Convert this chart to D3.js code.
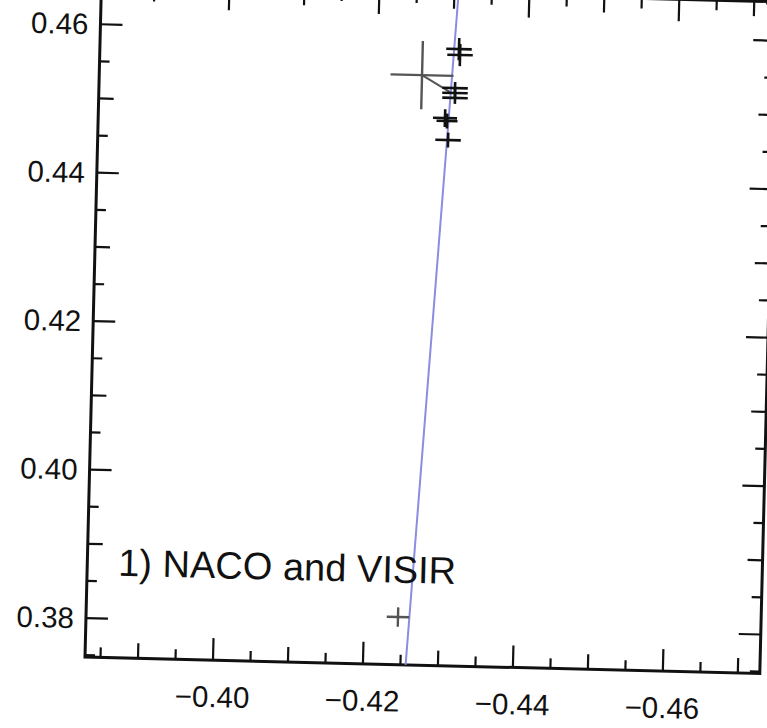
<!DOCTYPE html>
<head>
<meta charset="utf-8">
<style>
  body { margin: 0; background: #fff; }
  svg { display: block; font-family: "Liberation Sans", Arial, sans-serif; }
</style>
</head>
<body>
<svg width="767" height="728"></svg>
<script src="https://d3js.org/d3.v7.min.js"></script>
<script>
// axis ranges and labelled ticks
var xDomain = [-0.38293, -0.47293];
var yDomain = [0.37475, 0.46526];
var xTickVals = [-0.40, -0.42, -0.44, -0.46];
var yTickVals = [0.38, 0.40, 0.42, 0.44, 0.46];

// NACO astrometry (black)
var nacoX    = [-0.43080, -0.43096, -0.43040, -0.43041, -0.43043, -0.42916, -0.42944, -0.42964];
var nacoY    = [ 0.45784,  0.45704,  0.45258,  0.45191,  0.45124,  0.44850,  0.44811,  0.44555];
var nacoXErr = [ 0.0017,   0.0017,   0.0017,   0.0017,   0.0017,   0.0016,   0.0014,   0.0017];
var nacoYErr = [ 0.0015,   0.0015,   0.0008,   0.0008,   0.0008,   0.0012,   0.0010,   0.0010];

// VISIR astrometry (grey)
var visirX    = [-0.42596, -0.42452];
var visirY    = [ 0.45421,  0.38116];
var visirXErr = [ 0.0042,   0.0015];
var visirYErr = [ 0.0046,   0.0013];

// link from the big VISIR point to the matching NACO epoch
var linkX = [-0.42596, -0.42975];
var linkY = [ 0.45421,  0.45202];

// fitted track
var fitX = [-0.42569, -0.43056];
var fitY = [ 0.37475,  0.46526];

var W = 675, H = 672, angle = 1.4;

var svg = d3.select("svg");
var g = svg.append("g")
    .attr("transform", "translate(85,657) rotate(" + angle + ") translate(0," + (-H) + ")");

var x = d3.scaleLinear().domain(xDomain).range([0, W]);
var y = d3.scaleLinear().domain(yDomain).range([H, 0]);

g.append("clipPath").attr("id", "clip")
  .append("rect").attr("width", W).attr("height", H);

// tick marks: every 0.005, medium every 0.01, long every 0.02
function tickLen(v) {
  var k = Math.round(Math.abs(v) * 1000);
  if (k % 20 === 0) return 22;
  if (k % 10 === 0) return 15;
  return 10;
}
var xMinor = d3.range(-0.385, -0.4731, -0.005);
var yMinor = d3.range(0.375, 0.4653, 0.005);

var ticks = g.append("g").attr("stroke", "#111").attr("stroke-width", 2.2);
ticks.selectAll(".xb").data(xMinor).enter().append("line")
    .attr("x1", x).attr("x2", x).attr("y1", H).attr("y2", function(d) { return H - tickLen(d); });
ticks.selectAll(".xt").data(xMinor).enter().append("line")
    .attr("x1", x).attr("x2", x).attr("y1", 0).attr("y2", function(d) { return tickLen(d); });
ticks.selectAll(".yl").data(yMinor).enter().append("line")
    .attr("y1", y).attr("y2", y).attr("x1", 0).attr("x2", function(d) { return tickLen(d); });
ticks.selectAll(".yr").data(yMinor).enter().append("line")
    .attr("y1", y).attr("y2", y).attr("x1", W).attr("x2", function(d) { return W - tickLen(d); });

// frame
g.append("rect").attr("width", W).attr("height", H)
    .attr("fill", "none").attr("stroke", "#111").attr("stroke-width", 3);

// tick labels
var fmt = d3.format(".2f");
g.selectAll(".xlab").data(xTickVals).enter().append("text")
    .attr("x", x).attr("y", H + 47)
    .attr("text-anchor", "middle").attr("font-size", 29.5).attr("fill", "#111")
    .text(fmt);
g.selectAll(".ylab").data(yTickVals).enter().append("text")
    .attr("x", -12).attr("y", y).attr("dy", "0.35em")
    .attr("text-anchor", "end").attr("font-size", 29.5).attr("fill", "#111")
    .text(fmt);

var plot = g.append("g").attr("clip-path", "url(#clip)");

// fitted line
plot.append("line")
    .attr("x1", x(fitX[0])).attr("y1", y(fitY[0]))
    .attr("x2", x(fitX[1])).attr("y2", y(fitY[1]))
    .attr("stroke", "#8a8de0").attr("stroke-width", 2);

function crosses(xs, ys, xe, ye, color, width) {
  var data = xs.map(function(v, i) { return {x: v, y: ys[i], xe: xe[i], ye: ye[i]}; });
  var c = plot.append("g").attr("stroke", color).attr("stroke-width", width);
  c.selectAll(".h").data(data).enter().append("line")
      .attr("x1", function(d) { return x(d.x - d.xe); })
      .attr("x2", function(d) { return x(d.x + d.xe); })
      .attr("y1", function(d) { return y(d.y); })
      .attr("y2", function(d) { return y(d.y); });
  c.selectAll(".v").data(data).enter().append("line")
      .attr("x1", function(d) { return x(d.x); })
      .attr("x2", function(d) { return x(d.x); })
      .attr("y1", function(d) { return y(d.y - d.ye); })
      .attr("y2", function(d) { return y(d.y + d.ye); });
}

plot.append("line")
    .attr("x1", x(linkX[0])).attr("y1", y(linkY[0]))
    .attr("x2", x(linkX[1])).attr("y2", y(linkY[1]))
    .attr("stroke", "#555").attr("stroke-width", 2);

crosses(visirX, visirY, visirXErr, visirYErr, "#555", 2.4);
crosses(nacoX, nacoY, nacoXErr, nacoYErr, "#111", 2.6);

// panel label
g.append("text")
    .attr("x", 31).attr("y", H - 82)
    .attr("font-size", 38).attr("fill", "#111")
    .text("1) NACO and VISIR");
</script>
</body>
